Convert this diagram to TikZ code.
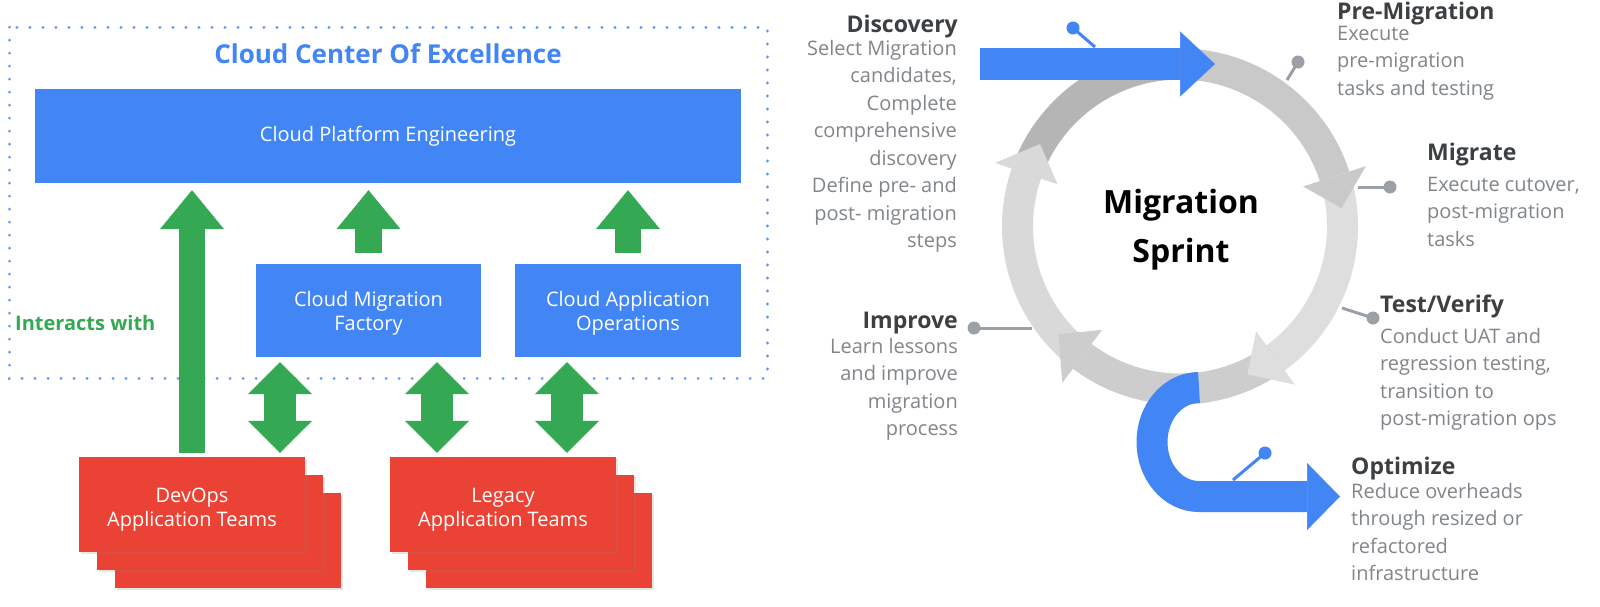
\documentclass[tikz,border=0pt]{standalone}
\usepackage{fontspec}
\setmainfont{Open Sans}
\usetikzlibrary{arrows.meta,calc,positioning,shadows}

\definecolor{gblue}{HTML}{4285F4}
\definecolor{gred}{HTML}{EA4335}
\definecolor{ggreen}{HTML}{34A853}
\definecolor{pingray}{HTML}{9AA0A6}
\definecolor{headgray}{HTML}{3C4043}
\definecolor{descgray}{HTML}{80868B}
\definecolor{ringA}{HTML}{B5B5B5}
\definecolor{ringB}{HTML}{C9C9C9}
\definecolor{ringC}{HTML}{DEDEDE}
\definecolor{ringD}{HTML}{CDCDCD}
\definecolor{ringE}{HTML}{D9D9D9}

\begin{document}
\begin{tikzpicture}[
  x=1pt, y=1pt,
  cloudbox/.style={fill=gblue, text=white, align=center, inner sep=0pt,
    font=\fontsize{20}{25}\selectfont},
  teambox/.style={fill=gred, inner sep=0pt, minimum width=226, minimum height=95,
    drop shadow={opacity=0.2, shadow xshift=1.5pt, shadow yshift=-1.5pt}},
  teamlabel/.style={text=white, align=center, inner sep=0pt, font=\fontsize{20}{24}\selectfont},
  uparrow/.style={draw=ggreen, line width=26.5,
    -{Triangle[width=64pt,length=39pt,line width=0.5pt]}},
  dblarrow/.style={draw=ggreen, line width=32,
    {Triangle[width=64pt,length=32pt,line width=0.5pt]}-{Triangle[width=64pt,length=32pt,line width=0.5pt]}},
  bluearrow/.style={draw=gblue, line width=#1},
  stepname/.style={font=\fontsize{23}{27}\selectfont\bfseries, text=headgray, inner sep=0pt},
  steptext/.style={font=\fontsize{20}{27.5}\selectfont, text=descgray, inner sep=0pt}
]
\path[use as bounding box, fill=white] (0,0) rectangle (1600,-606);

% ---- left: cloud center of excellence ----
\draw[gblue!85, line width=3, line cap=round, dash pattern=on 0.1pt off 12.9pt]
  (9,-27) rectangle (767,-378);
\node[font=\fontsize{26}{30}\selectfont\bfseries, text=gblue, anchor=base] (ccoe) at (388,-63)
  {Cloud Center Of Excellence};
\node[font=\fontsize{20}{24}\selectfont\bfseries, text=ggreen, anchor=base west, inner sep=0pt]
  (interacts) at (15,-330) {Interacts with};

\node[cloudbox, minimum width=706, minimum height=94] (cpe) at (388,-136) {Cloud Platform Engineering};
\node[cloudbox, minimum width=225, minimum height=93] (cmf) at (368.5,-310.5) {};
\node[cloudbox, minimum width=226, minimum height=93] (cao) at (628,-310.5) {};
\node[teamlabel] (cmf-lbl) at ([yshift=-2.5]cmf.center) {Cloud Migration\\Factory};
\node[teamlabel] (cao-lbl) at ([yshift=-2.5]cao.center) {Cloud Application\\Operations};

% team stacks, back cards first
\foreach \n/\x/\lbl in {devops/192/DevOps, legacy/503/Legacy} {
  \foreach \k in {2,1}
    \node[teambox] (\n\k) at (\x+18*\k,-504.5-18*\k) {};
  \node[teambox] (\n) at (\x,-504.5) {};
  \node[teamlabel] (\n-lbl) at ([yshift=-5]\n.center) {\lbl\\Application Teams};
}

% green arrows
\draw[uparrow] ([yshift=4]devops.north) -- ([yshift=-7]devops.north |- cpe.south);
\draw[uparrow] ([yshift=11]cmf.north) -- ([yshift=-7]cmf.north |- cpe.south);
\draw[uparrow] ([yshift=11]cao.north) -- ([yshift=-7]cao.north |- cpe.south);
\foreach \b/\dx in {cmf/-88.5, cmf/68.5, cao/-61}
  \draw[dblarrow] ([shift={(\dx,-5)}]\b.south) -- ([shift={(\dx,4)}]\b.south |- devops.north);

% ---- right: migration sprint ----
\def\rr{162.5}
\coordinate (ring) at (1180,-226.5);

% pins
\foreach \px/\py/\qx/\qy in {1298/62/1287/80, 1390/187/1358/187, 1373/318/1342/308, 974/328/1032/328} {
  \draw[pingray, line width=3] (\px,-\py) -- (\qx,-\qy);
  \fill[pingray] (\px,-\py) circle (6.5);
}
\foreach \px/\py/\qx/\qy in {1073/28/1095/47, 1265/453/1233/480} {
  \draw[gblue, line width=3] (\px,-\py) -- (\qx,-\qy);
  \fill[gblue] (\px,-\py) circle (6.5);
}

% ring segments, clockwise
\foreach \a/\b/\c in {161/85/ringA, 85/18/ringB, 18/-54/ringC, -54/-127/ringD, -127/-199/ringE}
  \draw[\c, line width=31] ($(ring)+(\a:\rr)$) arc[start angle=\a, end angle=\b, radius=\rr];
% heads at segment ends
\foreach \a/\c in {161/ringE, 18/ringB, -54/ringC, -127/ringD}
  \fill[\c] ($(ring)+(\a:\rr+33)$) -- ($(ring)+(\a-11.5:\rr)$) -- ($(ring)+(\a:\rr-33)$) -- cycle;

% blue in / out arrows
\coordinate (discin) at (980,-64);
\coordinate (discout) at (1215,-64);
\draw[bluearrow=32, -{Triangle[width=65pt,length=35pt,line width=0.5pt]}] (discin) -- (discout);
\coordinate (optin) at (1199,-387.5);
\coordinate (optout) at (1340,-496.5);
\draw[bluearrow=31, -{Triangle[width=67pt,length=33pt,line width=0.5pt]}]
  (optin) arc[start angle=90, end angle=270, x radius=47, y radius=54.5] -- (optout);

\node[font=\fontsize{32}{49}\selectfont\bfseries, anchor=base] (sprint) at (1181,-213) {Migration};
\node[font=\fontsize{32}{49}\selectfont\bfseries, anchor=base] (sprint2) at (1181,-262) {Sprint};

% step labels
\node[stepname, anchor=base east] (disc) at (958,-32) {Discovery};
\foreach \t [count=\i from 0] in {Select Migration, {candidates,}, Complete, comprehensive, discovery, Define pre- and, post- migration, steps}
  \node[steptext, anchor=base east] (disc\i) at (957,-55-27.5*\i) {\t};

\node[stepname, anchor=base west] (premig) at (1337,-19) {Pre-Migration};
\foreach \t [count=\i from 0] in {Execute, pre-migration, tasks and testing}
  \node[steptext, anchor=base west] (premig\i) at (1337,-40-27.5*\i) {\t};

\node[stepname, anchor=base west] (migr) at (1427,-160) {Migrate};
\foreach \t [count=\i from 0] in {{Execute cutover,}, post-migration, tasks}
  \node[steptext, anchor=base west] (migr\i) at (1427,-191-27.5*\i) {\t};

\node[stepname, anchor=base west] (test) at (1380,-312) {Test/Verify};
\foreach \t [count=\i from 0] in {Conduct UAT and, {regression testing,}, transition to, post-migration ops}
  \node[steptext, anchor=base west] (test\i) at (1380,-343-27.5*\i) {\t};

\node[stepname, anchor=base east] (impr) at (958,-328) {Improve};
\foreach \t [count=\i from 0] in {Learn lessons, and improve, migration, process}
  \node[steptext, anchor=base east] (impr\i) at (958,-353-27.5*\i) {\t};

\node[stepname, anchor=base west] (optim) at (1351,-474) {Optimize};
\foreach \t [count=\i from 0] in {Reduce overheads, through resized or, refactored, infrastructure}
  \node[steptext, anchor=base west] (optim\i) at (1351,-498-27.5*\i) {\t};

\end{tikzpicture}
\end{document}
